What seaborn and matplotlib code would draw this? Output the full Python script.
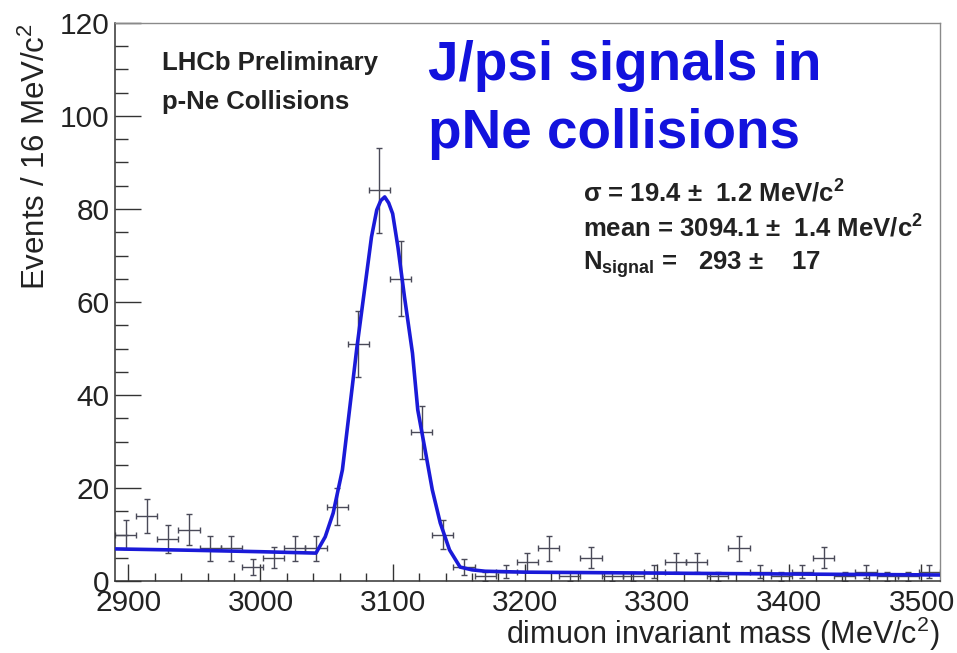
import numpy as np
import pandas as pd
import matplotlib
matplotlib.use("Agg")
import matplotlib.pyplot as plt
import seaborn as sns
from matplotlib.ticker import MultipleLocator

# ---------------- data ----------------
bin_centers = [2898, 2914, 2930, 2946, 2962, 2978, 2994, 3010, 3026, 3042,
               3058, 3074, 3090, 3106, 3122, 3138, 3154, 3170, 3186, 3202,
               3218, 3234, 3250, 3266, 3282, 3298, 3314, 3330, 3346, 3362,
               3378, 3394, 3410, 3426, 3442, 3458, 3474, 3490, 3506]
counts = [10, 14, 9, 11, 7, 7, 3, 5, 7, 7,
          16, 51, 84, 65, 32, 10, 3, 1, 2, 4,
          7, 1, 5, 1, 1, 2, 4, 4, 1, 7,
          2, 1, 2, 5, 1, 2, 1, 1, 2]
half_bin = 8

fit_mass = [2890, 2950, 3000, 3042, 3049, 3055, 3062, 3068, 3073, 3079,
            3084, 3088, 3091, 3094, 3097, 3100, 3104, 3109, 3115, 3119,
            3125, 3130, 3136, 3143, 3151, 3160, 3170, 3200, 3300, 3400, 3514]
fit_vals = [6.9, 6.6, 6.3, 6.0, 9.5, 14.6, 23.9, 38.3, 50.3, 63.2,
            74.0, 79.8, 81.8, 82.6, 81.3, 79.0, 71.8, 61.0, 49.0, 36.8,
            27.5, 19.6, 12.5, 6.7, 3.0, 2.4, 2.1, 1.9, 1.7, 1.5, 1.3]

x_ticks = [2900, 3000, 3100, 3200, 3300, 3400, 3500]
y_ticks = [0, 20, 40, 60, 80, 100, 120]

# ---------------- style ----------------
sns.set_theme(style="ticks")
plt.rcParams['font.family'] = ['Liberation Sans', 'DejaVu Sans']
plt.rcParams['mathtext.default'] = 'regular'

W, H = 957, 653
fig = plt.figure(figsize=(W / 100, H / 100), dpi=100)
fig.patch.set_facecolor('white')
x0, x1, y0, y1 = 115, 940, 23, 581
ax = fig.add_axes([x0 / W, 1 - y1 / H, (x1 - x0) / W, (y1 - y0) / H])
ax.set_facecolor('white')

hist = pd.DataFrame({'mass': bin_centers, 'events': counts})
fit = pd.DataFrame({'mass': fit_mass, 'events': fit_vals})

ax.errorbar(hist['mass'], hist['events'], yerr=np.sqrt(hist['events']),
            xerr=half_bin, fmt='none', ecolor='#4a4a58', elinewidth=1.0,
            capsize=2.5, capthick=1.0, zorder=2)
sns.lineplot(data=fit, x='mass', y='events', ax=ax, sort=False,
             color='#1a1ad8', linewidth=2.6, zorder=3)

ax.set_xlim(2890, 3514)
ax.set_ylim(0, 120)
ax.set_xticks(x_ticks)
ax.set_yticks(y_ticks)
ax.xaxis.set_minor_locator(MultipleLocator(20))
ax.yaxis.set_minor_locator(MultipleLocator(5))
ax.tick_params(axis='x', which='major', direction='in', length=12, width=1,
               color='#333333', labelsize=21.5, pad=6, labelcolor='#222222')
ax.tick_params(axis='x', which='minor', direction='in', length=6, width=1,
               color='#333333')
ax.tick_params(axis='y', which='major', direction='in', length=19, width=1,
               color='#333333', labelsize=21.5, pad=4, labelcolor='#222222')
ax.tick_params(axis='y', which='minor', direction='in', length=9.5, width=1,
               color='#333333')

for s in ['left', 'bottom']:
    ax.spines[s].set_color('#333333')
    ax.spines[s].set_linewidth(1.1)
for s in ['top', 'right']:
    ax.spines[s].set_color('#8a8a8a')
    ax.spines[s].set_linewidth(1.0)

ax.set_xlabel('dimuon invariant mass (MeV/c$^{2}$)', fontsize=22,
              color='#222222', loc='right')
ax.xaxis.set_label_coords(1.0, -0.06)
ax.set_ylabel('Events / 16 MeV/c$^{2}$', fontsize=22.5, color='#222222',
              loc='top')
ax.yaxis.set_label_coords(-0.076, 1.0)

def ftext(px, py, s, **kw):
    fig.text(px / W, 1 - py / H, s, va='center', ha='left', **kw)

ftext(162, 63, 'LHCb Preliminary', fontsize=18.5, fontweight='bold', color='#222222')
ftext(162, 102, 'p-Ne Collisions', fontsize=18.5, fontweight='bold', color='#222222')

ftext(428, 66, 'J/psi signals in', fontsize=39.5, fontweight='bold', color='#1212dd')
ftext(428, 134, 'pNe collisions', fontsize=39.5, fontweight='bold', color='#1212dd')

ftext(583, 193, '\u03c3 = 19.4 \u00b1  1.2 MeV/c$^{2}$', fontsize=18.5,
      fontweight='bold', color='#222222')
ftext(583, 228, 'mean = 3094.1 \u00b1  1.4 MeV/c$^{2}$', fontsize=18.5,
      fontweight='bold', color='#222222')
ftext(583, 265, 'N$_{signal}$ =   293 \u00b1    17', fontsize=18.5,
      fontweight='bold', color='#222222')

fig.savefig('out.png', dpi=100, facecolor='white')
